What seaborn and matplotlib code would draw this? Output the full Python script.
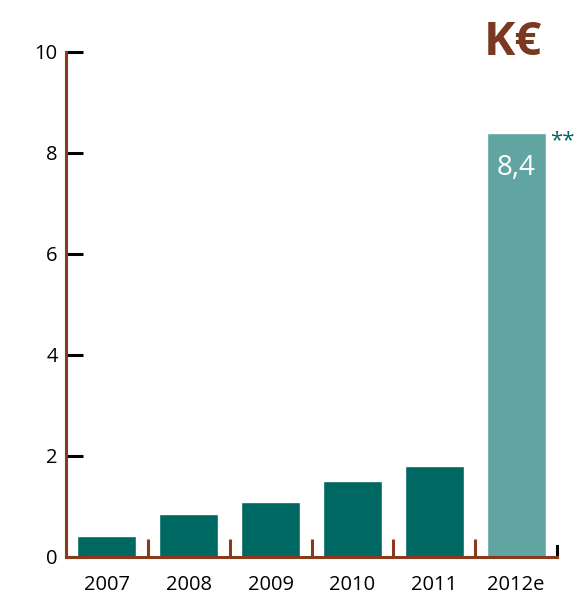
import matplotlib
matplotlib.use('Agg')
import matplotlib.pyplot as plt
import seaborn as sns
import pandas as pd

years = ['2007', '2008', '2009', '2010', '2011', '2012e']
values = [0.42, 0.85, 1.09, 1.50, 1.80, 8.4]
bar_colors = ['#006862', '#006862', '#006862', '#006862', '#006862', '#60a5a2']
y_ticks = [0, 2, 4, 6, 8, 10]
last_label = '8,4'
unit = 'K€'

brown = '#8a3a1c'
df = pd.DataFrame({'year': years, 'value': values})

sns.set_style('white')
plt.rcParams['font.family'] = ['Open Sans', 'DejaVu Sans']

fig = plt.figure(figsize=(5.75, 5.94), dpi=100)
ax = fig.add_axes([0.1148, 0.0623, 0.854, 0.8502])

sns.barplot(data=df, x='year', y='value', hue='year', palette=bar_colors,
            width=0.72, saturation=1, legend=False, ax=ax)

ax.set_xlim(-0.5, 5.5)
ax.set_ylim(0, 10)
ax.set_xlabel('')
ax.set_ylabel('')

ax.spines['top'].set_visible(False)
ax.spines['left'].set_color(brown)
ax.spines['left'].set_linewidth(2.2)
ax.spines['bottom'].set_color(brown)
ax.spines['bottom'].set_linewidth(2.2)
ax.spines['right'].set_color('black')
ax.spines['right'].set_linewidth(2.2)
ax.spines['right'].set_bounds(0, 0.22)

ax.set_yticks(y_ticks)
ax.tick_params(axis='y', direction='in', length=12, width=2.2, color='black',
               labelsize=14.5, labelcolor='black', pad=6, left=True)
ax.set_xticks(range(len(years)))
ax.set_xticklabels(years)
ax.tick_params(axis='x', which='major', length=0, labelsize=14.5,
               labelcolor='black', pad=13)
ax.set_xticks([i + 0.5 for i in range(len(years) - 1)], minor=True)
ax.tick_params(axis='x', which='minor', direction='in', length=13, width=2.2,
               color=brown, bottom=True)

ax.text(5, 8.4 - 0.42, last_label, color='white', fontsize=20,
        ha='center', va='top')
ax.text(5.565, 8.24, '**', color='#006862', fontsize=16, ha='center',
        va='center')
fig.text(0.892, 0.928, unit, color='#7a3820', fontsize=34, fontweight='bold',
         ha='center', va='center')

fig.savefig('out.png', dpi=100)
